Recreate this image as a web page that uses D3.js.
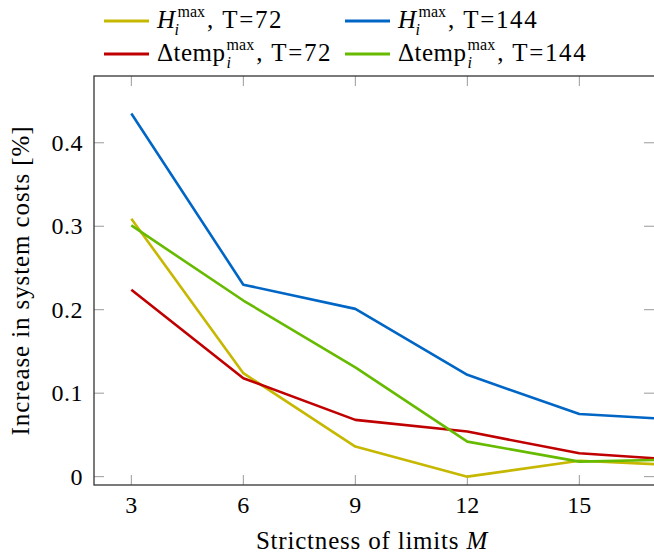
<!DOCTYPE html>
<html><head><meta charset="utf-8">
<script src="https://cdn.jsdelivr.net/npm/d3@7"></script>
<style>body{margin:0;background:#fff}svg{display:block}</style>
</head><body><svg id="c" width="654" height="556"></svg>
<script>
const xValues = [3, 6, 9, 12, 15, 17];
const hMax72 = [0.309, 0.124, 0.036, 0.000, 0.019, 0.015];
const hMax144 = [0.435, 0.230, 0.201, 0.122, 0.075, 0.070];
const dTemp72 = [0.224, 0.118, 0.068, 0.054, 0.028, 0.022];
const dTemp144 = [0.301, 0.211, 0.131, 0.042, 0.018, 0.020];
const xTicks = [3, 6, 9, 12, 15];
const yTicks = [0, 0.1, 0.2, 0.3, 0.4];
const yTickLabels = ["0", "0.1", "0.2", "0.3", "0.4"];

const series = [
  {base:"H", italic:true, sub:"i", sup:"max", tail:", T=72", vals:hMax72, color:"#c6b800"},
  {base:"H", italic:true, sub:"i", sup:"max", tail:", T=144", vals:hMax144, color:"#0066c6"},
  {base:"\u0394temp", italic:false, sub:"i", sup:"max", tail:", T=72", vals:dTemp72, color:"#c00000"},
  {base:"\u0394temp", italic:false, sub:"i", sup:"max", tail:", T=144", vals:dTemp144, color:"#66bb00"}
];

function serif(sel) {
  return sel.attr("font-family", "Liberation Serif").style("font-family", "'Liberation Serif', 'Times New Roman', serif");
}

const svg = d3.select("#c");
const L = 94, R = 654, T = 76, B = 485;
const x = d3.scaleLinear().domain([2, 17]).range([L, R]);
const y = d3.scaleLinear().domain([-0.01, 0.48]).range([B, T]);

const g = svg.append("g");
g.selectAll(".xt").data(xTicks).join("line")
  .attr("x1", d => x(d)).attr("x2", d => x(d)).attr("y1", B).attr("y2", B - 10)
  .attr("stroke", "#9a9a9a").attr("stroke-width", 1);
g.selectAll(".xt2").data(xTicks).join("line")
  .attr("x1", d => x(d)).attr("x2", d => x(d)).attr("y1", T).attr("y2", T + 10)
  .attr("stroke", "#9a9a9a").attr("stroke-width", 1);
g.selectAll(".yt").data(yTicks).join("line")
  .attr("x1", L).attr("x2", L + 10).attr("y1", d => y(d)).attr("y2", d => y(d))
  .attr("stroke", "#9a9a9a").attr("stroke-width", 1);
g.selectAll(".yt2").data(yTicks).join("line")
  .attr("x1", R).attr("x2", R - 10).attr("y1", d => y(d)).attr("y2", d => y(d))
  .attr("stroke", "#9a9a9a").attr("stroke-width", 1);

const line = d3.line().x((d, i) => x(xValues[i])).y(d => y(d));
svg.append("g").selectAll("path").data(series).join("path")
  .attr("d", d => line(d.vals)).attr("fill", "none")
  .attr("stroke", d => d.color).attr("stroke-width", 2.6)
  .attr("stroke-linejoin", "round");

svg.append("rect").attr("x", L).attr("y", T).attr("width", R - L + 2).attr("height", B - T)
  .attr("fill", "none").attr("stroke", "#333").attr("stroke-width", 1.3);

serif(svg.append("g").selectAll("text").data(xTicks).join("text"))
  .attr("x", d => x(d)).attr("y", 513).attr("text-anchor", "middle")
  .attr("font-size", 24).text(d => d);
serif(svg.append("g").selectAll("text").data(yTicks).join("text"))
  .attr("x", 83).attr("y", d => y(d) + 8).attr("text-anchor", "end")
  .attr("font-size", 24).attr("letter-spacing", 0.5).text((d, i) => yTickLabels[i]);

const xl = serif(svg.append("text")).attr("x", 372).attr("y", 549)
  .attr("text-anchor", "middle").attr("font-size", 25).attr("letter-spacing", 0.8);
xl.append("tspan").text("Strictness of limits ");
xl.append("tspan").attr("font-style", "italic").text("M");
serif(svg.append("text")).attr("transform", `translate(29,${(T + B) / 2}) rotate(-90)`)
  .attr("text-anchor", "middle").attr("font-size", 25).attr("letter-spacing", 0.9)
  .text("Increase in system costs [%]");

const legPos = [[104, 21], [345, 21], [104, 54], [345, 54]];
series.forEach((s, i) => {
  const [lx, ly] = legPos[i];
  svg.append("line").attr("x1", lx).attr("x2", lx + 45).attr("y1", ly).attr("y2", ly)
    .attr("stroke", s.color).attr("stroke-width", 3);
  const tx = lx + 53, base = ly + 7;
  const b = serif(svg.append("text")).attr("font-size", 25).attr("letter-spacing", 0.5)
    .attr("font-style", s.italic ? "italic" : "normal").attr("x", tx).attr("y", base).text(s.base);
  const bw = b.node().getComputedTextLength();
  const sp = serif(svg.append("text")).attr("font-size", 16)
    .attr("x", tx + bw + (s.italic ? 2 : 1)).attr("y", base - 11).text(s.sup);
  const sw = sp.node().getComputedTextLength();
  serif(svg.append("text")).attr("font-size", 16).attr("font-style", "italic")
    .attr("x", tx + bw - (s.italic ? 1 : -1)).attr("y", base + 7).text(s.sub);
  serif(svg.append("text")).attr("font-size", 25)
    .attr("x", tx + bw + (s.italic ? 2 : 1) + sw + 2).attr("y", base).attr("letter-spacing", 1.6).text(s.tail);
});
</script></body></html>
